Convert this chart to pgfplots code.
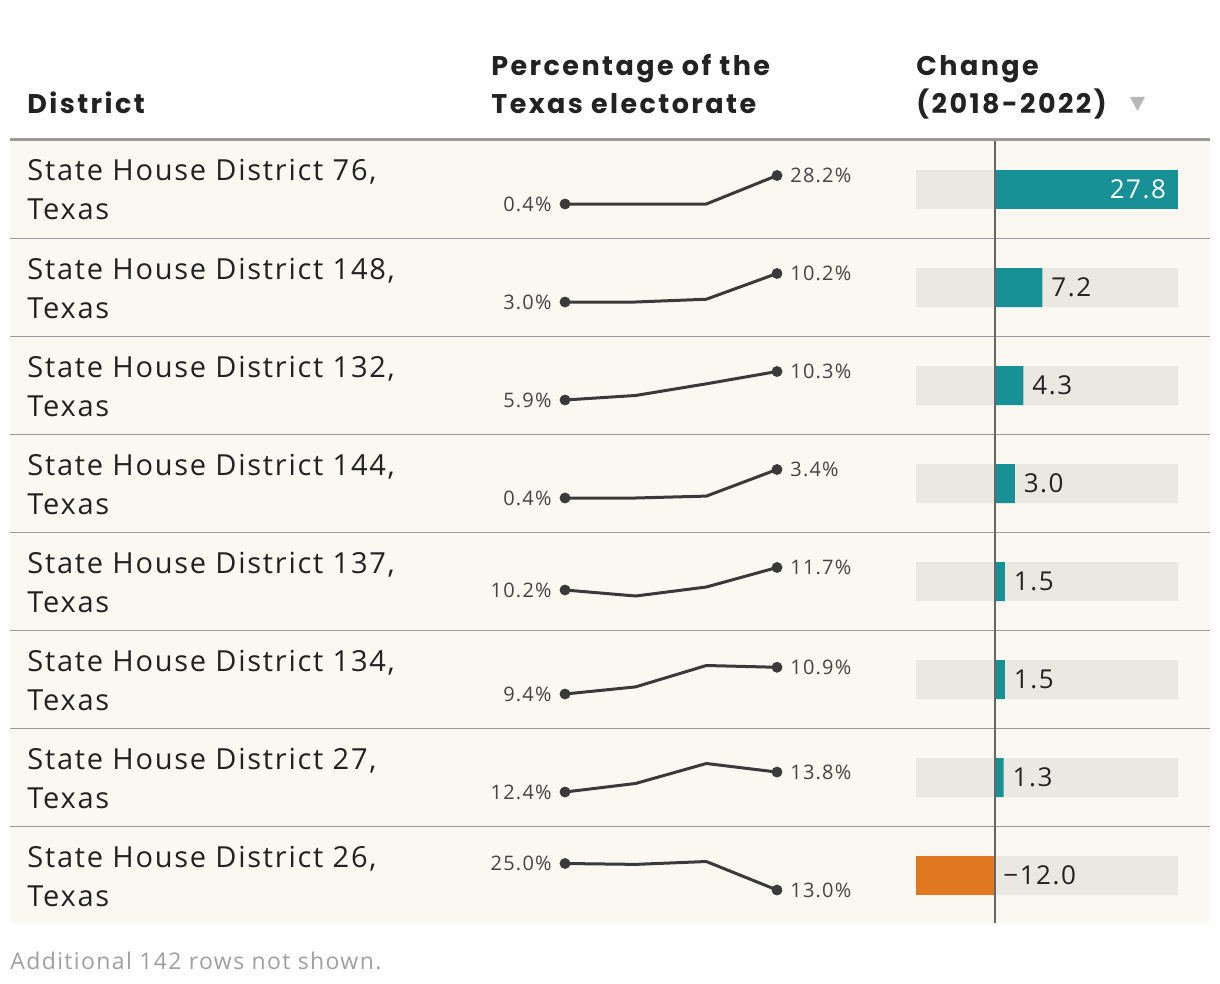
\documentclass[border=0pt]{standalone}
\usepackage{fontspec}
\setmainfont{Open Sans}[LetterSpace=6]
\newfontfamily\headfont{Poppins}[LetterSpace=9]
\usepackage{pgfplots}
\usepackage{pgfplotstable}
\pgfplotsset{compat=1.18}

\definecolor{cream}{HTML}{FAF8F0}
\definecolor{track}{HTML}{EAE8E1}
\definecolor{barteal}{HTML}{189196}
\definecolor{barorange}{HTML}{E07822}
\definecolor{ink}{HTML}{222222}
\definecolor{sparkink}{HTML}{3A3A3A}
\definecolor{rule}{HTML}{9A9A9A}
\definecolor{zeroline}{HTML}{666666}
\definecolor{note}{HTML}{A0A0A0}

% share of the Texas electorate, four points per district row
\pgfplotstableread{
x r1 r2 r3 r4 r5 r6 r7 r8
1 0.4 3.0 5.9 0.4 10.2 9.4 12.4 25.0
2 0.4 3.0 6.6 0.4 9.8 9.8 13.0 24.6
3 0.4 3.7 8.4 0.6 10.4 11.0 14.4 25.9
4 28.2 10.2 10.3 3.4 11.7 10.9 13.8 13.0
}\sparkdata

\pgfplotsset{
  /pgf/number format/assume math mode=true,
  sparkline/.style={sparkink, line width=1.5pt, line join=round, mark=none},
  sparkend/.style={only marks, mark=*, mark size=2.5pt, sparkink,
    point meta=y,
    nodes near coords={\pgfmathprintnumber[fixed,fixed zerofill,precision=1]{\pgfplotspointmeta}\%},
    every node near coord/.append style={font=\fontsize{10}{12}\selectfont, text=sparkink!95!white, inner sep=0pt}},
}

\newcommand\sparkrow[2]{%
  \coordinate (sp) at (565,#2);
  \begin{axis}[at={(sp)}, anchor=south west, scale only axis,
    width=106pt, height=14.25pt, xmin=1, xmax=4, enlargelimits=false,
    hide axis, clip=false]
    \addplot[sparkline] table[x=x, y=#1] {\sparkdata};
    \addplot[sparkend, skip coords between index={1}{4},
      every node near coord/.append style={anchor=east, xshift=-6.5pt}] table[x=x, y=#1] {\sparkdata};
    \addplot[sparkend, skip coords between index={0}{3},
      every node near coord/.append style={anchor=west, xshift=6.5pt}] table[x=x, y=#1] {\sparkdata};
  \end{axis}}

\begin{document}
\begin{tikzpicture}[x=0.5pt, y=-0.5pt]
\path[use as bounding box, fill=white] (0,0) rectangle (1220,984);
\fill[cream] (10,141) rectangle (1210,923);
\draw[rule, line width=1.5pt] (10,139.3) -- (1210,139.3);
\foreach \yy in {238.5,336.5,434.5,532.5,630.5,728.5,826.5}
  \draw[rule, line width=0.75pt] (10,\yy) -- (1210,\yy);

% header
\begin{scope}[every node/.style={anchor=base west, inner sep=0pt, text=ink,
    font=\headfont\bfseries\fontsize{13.5}{16}\selectfont}]
  \node at (27,114) {District};
  \node at (491,76) {Percentage of the};
  \node at (491,114) {Texas electorate};
  \node at (916,76) {Change};
  \node at (916,114) {(2018-2022)};
\end{scope}
\fill[black!28] (1130,97) -- (1145,97) -- (1137.5,111) -- cycle;

% district names
\begin{scope}[every node/.style={anchor=base west, inner sep=0pt, text=ink,
    font=\fontsize{14.5}{17}\selectfont}]
  \foreach \d [count=\i from 0] in {76,148,132,144,137,134,27,26} {
    \node at (27,181+98*\i) {State House District \d,};
    \node at (27,220+98*\i) {Texas};
  }
\end{scope}

% sparklines
\sparkrow{r1}{204}
\sparkrow{r2}{302}
\sparkrow{r3}{400}
\sparkrow{r4}{498}
\sparkrow{r5}{596}
\sparkrow{r6}{694}
\sparkrow{r7}{792}
\sparkrow{r8}{890}

% change bars
\coordinate (bb) at (916,924.5);
\begin{axis}[at={(bb)}, anchor=south west, scale only axis,
  width=131pt, height=392pt, xmin=-12, xmax=27.8, ymin=0.5, ymax=8.5,
  y dir=reverse, hide axis, clip=false,
  /pgf/number format/.cd, fixed, fixed zerofill, precision=1]
  \addplot[xbar, bar shift=0pt, bar width=19.5pt, fill=track, draw=none]
    coordinates {(27.8,1) (27.8,2) (27.8,3) (27.8,4) (27.8,5) (27.8,6) (27.8,7) (27.8,8)};
  \addplot[xbar, bar shift=0pt, bar width=19.5pt, fill=track, draw=none]
    coordinates {(-12,1) (-12,2) (-12,3) (-12,4) (-12,5) (-12,6) (-12,7) (-12,8)};
  \addplot[xbar, bar shift=0pt, bar width=19.5pt, fill=barteal, draw=none,
    nodes near coords,
    every node near coord/.append style={anchor=east, xshift=-2.5pt, text=white,
      font=\fontsize{13}{15}\selectfont}]
    coordinates {(27.8,1)};
  \addplot[xbar, bar shift=0pt, bar width=19.5pt, fill=barteal, draw=none,
    nodes near coords,
    every node near coord/.append style={anchor=west, xshift=1pt, text=ink,
      font=\fontsize{13}{15}\selectfont}]
    coordinates {(7.2,2) (4.3,3) (3.0,4) (1.5,5) (1.5,6) (1.3,7)};
  \addplot[xbar, bar shift=0pt, bar width=19.5pt, fill=barorange, draw=none]
    coordinates {(-12.0,8)};
  \node[anchor=west, xshift=4pt, inner sep=0pt, text=ink, font=\fontsize{13}{15}\selectfont]
    at (axis cs:0,8) {−12.0};
  \draw[zeroline, line width=1pt] (axis cs:0,0.5) -- (axis cs:0,8.48);
\end{axis}

\node[anchor=base west, inner sep=0pt, text=note, font=\fontsize{11.5}{14}\selectfont]
  at (10,969) {Additional 142 rows not shown.};
\end{tikzpicture}
\end{document}
